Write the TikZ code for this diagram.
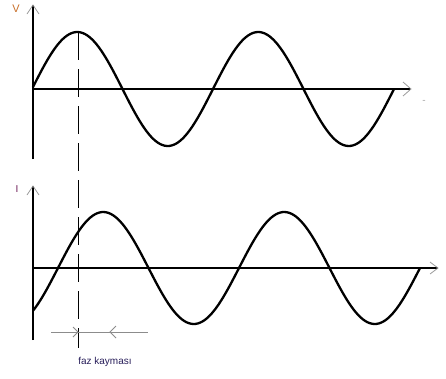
\documentclass[tikz,border=0pt]{standalone}
\usepackage{fontspec}
\setmainfont{Liberation Sans}
\usetikzlibrary{calc}
\begin{document}
\begin{tikzpicture}[x=1pt,y=-1pt,
  axis/.style={black,line width=1.8pt},
  wave/.style={black,line width=2.3pt,line join=round},
  ahead/.style={gray!80,line width=0.8pt},
  dimline/.style={gray!90,line width=0.8pt},
  lbl/.style={font=\fontsize{10}{11}\selectfont,inner sep=0pt}]
\useasboundingbox (0,0) rectangle (446,378);
% coordinates
\coordinate (vtop) at (33,5);
\coordinate (vbot) at (33,159);
\coordinate (vx0) at (33,89);
\coordinate (vx1) at (411,89);
\coordinate (itop) at (33,186);
\coordinate (ibot) at (33,340);
\coordinate (ix0) at (33,268);
\coordinate (ix1) at (438,268);
\coordinate (dtop) at (78,32);
\coordinate (dbot) at (78,348);
\coordinate (pl) at (51,332);
\coordinate (pr) at (148,332);
\coordinate (pa) at (78,332);
\coordinate (pb) at (110,332);
% axes
\draw[axis] (vbot) -- (vtop);
\draw[axis] (vx0) -- (vx1);
\draw[axis] (ibot) -- (itop);
\draw[axis] (ix0) -- (ix1);
% arrow heads
\draw[ahead] ($(vtop)+(-6,9)$) -- (vtop) -- ($(vtop)+(6,9)$);
\draw[ahead] ($(vx1)+(-8,-7)$) -- (vx1) -- ($(vx1)+(-8,7)$);
\draw[ahead] ($(itop)+(-6,9)$) -- (itop) -- ($(itop)+(6,9)$);
\draw[ahead] ($(ix1)+(-8,-6)$) -- (ix1) -- ($(ix1)+(-8,6)$);
\node[lbl,text=gray!70] (tick) at (424,102) {-};
% waves
\draw[wave] plot[domain=33:394,samples=160] (\x,{89-57*sin(1.98895*(\x-32))});
\draw[wave] plot[domain=33:420,samples=170] (\x,{268-56*sin(1.98895*(\x-58))});
% dashed line
\draw[black,line width=1pt,dash pattern=on 28pt off 9pt] (dtop) -- (dbot);
% phase shift markers
\draw[dimline] (pl) -- (pr);
\draw[dimline] ($(pa)+(-5,-5)$) -- (pa) -- ($(pa)+(-5,5)$);
\draw[dimline] ($(pb)+(6,-6)$) -- (pb) -- ($(pb)+(6,6)$);
% labels
\node[lbl,font=\fontsize{11}{12}\selectfont,text={rgb,255:red,200;green,110;blue,40}] (V) at (16,9) {V};
\node[lbl,text={rgb,255:red,110;green,30;blue,90}] (I) at (17,189) {I};
\node[lbl,text={rgb,255:red,40;green,30;blue,90}] (faz) at (105,362) {faz kaymas\i};
\end{tikzpicture}
\end{document}
